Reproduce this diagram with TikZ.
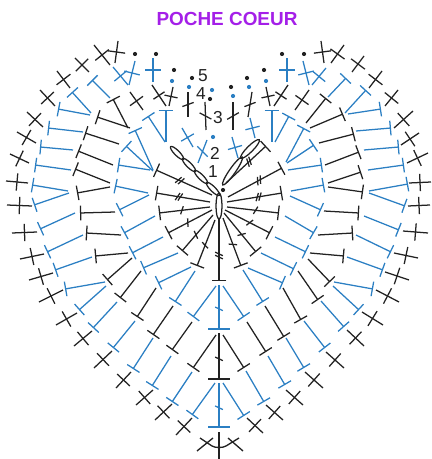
\documentclass[tikz,border=0pt]{standalone}
\usepackage{fontspec}
\setmainfont{Liberation Sans}
\usetikzlibrary{calc,arrows.meta}
\definecolor{stblue}{HTML}{2B7FC3}
\definecolor{stblack}{HTML}{222222}
\definecolor{titlepurple}{HTML}{A41FE8}
% stem from a to b, bar across its middle
\newcommand{\crossst}[5][90]{%
\draw[#2] (#4) -- (#5);
\draw[#2] ($(#4)!.5!(#5)!#3!#1:(#5)$) -- ($(#4)!.5!(#5)!#3!#1-180:(#5)$);
}
\newcommand{\slashst}[4]{%
\draw[#1] ($(#3)!#2!(#4)!3.2pt!65:(#4)$) -- ($(#3)!#2!(#4)!3.2pt!-115:(#4)$);
}
\begin{document}
\begin{tikzpicture}[x=.75pt,y=-.75pt,line width=.95pt,
every node/.style={inner sep=0pt,text=stblack,font=\fontsize{13}{13}\selectfont},
bluest/.style={stblue},
blackst/.style={stblack},
bluet/.style={stblue,-{Bar[width=11pt,line width=.95pt]}},
blackt/.style={stblack,-{Bar[width=11pt,line width=.95pt]}},
bluewide/.style={stblue,line width=1.2pt,-{Bar[width=16pt,line width=1.2pt]}},
blackwide/.style={stblack,line width=1.2pt,-{Bar[width=16pt,line width=1.2pt]}},
blackdot/.style={fill=stblack,draw=none},
bluedot/.style={fill=stblue,draw=none}]
\useasboundingbox (0,0) rectangle (431,459);
\node[text=titlepurple,font=\fontsize{14.2}{14.2}\bfseries\selectfont] (title) at (227,19) {POCHE COEUR};
\node (lblone) at (213,172) {1};
\node (lbltwo) at (215,153) {2};
\node (lblthree) at (218,118) {3};
\node (lblfour) at (201,94) {4};
\node (lblfive) at (203,76) {5};
% foundation ring
\draw[stblack] (219,206) ellipse [x radius=3,y radius=13];
\foreach \cx/\cy in {177/153,189/165,201/177,213/189}
  \draw[stblack,rotate around={-45:(\cx,\cy)}] (\cx,\cy) ellipse [x radius=9,y radius=2.5];
\draw[stblack,rotate around={55:(232.5,171)}] (232.5,171) ellipse [x radius=17,y radius=3];
\draw[stblack,rotate around={45:(250,149)}] (250,149) ellipse [x radius=13,y radius=3];
% round 1
\foreach \a/\b/\c/\d in {212/195/156/170,210/202/156/193,226/183/266/146,228/197/282/168,227/202/282/193} {
  \draw[blackt] (\a,\b) -- (\c,\d);
  \slashst{stblack}{.55}{\a,\b}{\c,\d}
  \slashst{stblack}{.6}{\a,\b}{\c,\d}
}
\foreach \a/\b/\c/\d in {210/207/159/213,212/210/168/233,213/215/182/251,215/220/197/266,227/207/279/213,225/210/270/233,224/213/256/252,223/218/241/266} {
  \draw[blackt] (\a,\b) -- (\c,\d);
  \slashst{stblack}{.55}{\a,\b}{\c,\d}
}
\draw[blackt] (219,218) -- (219,281);
\slashst{stblack}{.57}{219,218}{219,281}
\slashst{stblack}{.62}{219,218}{219,281}
% round 2
\foreach \a/\b/\c/\d in {166/142/166/110,165/142/148/116,153/170/135/130,153/171/126/146,150/170/118/165,148/193/115/186,149/195/119/210,155/216/124/233,163/237/132/253,178/253/143/268,191/267/158/283,195/271/175/302,216/286/193/317,223/286/244/317,243/270/263/302,248/268/283/283,261/253/294/269,275/237/306/252,285/216/314/233,290/196/321/210,291/191/324/185,288/170/322/165,287/163/314/145,286/162/304/128,275/142/289/116,272/142/272/110}
  \draw[bluet] (\a,\b) -- (\c,\d);
\draw[bluewide] (219,285) -- (219,330);
\slashst{stblue}{.53}{219,285}{219,330}
\crossst[66]{bluest}{5.5pt}{198,163}{207,140}
\foreach \a/\b/\c/\d in {193/147/182/128,238/158/232/137,255/138/250/118} {
  \crossst{bluest}{5.5pt}{\a,\b}{\c,\d}
}
% round 3
\foreach \a/\b/\c/\d in {128/128/113/99,130/128/97/117,119/144/85/133,113/165/78/151,110/183/75/169,110/187/77/193,115/212/80/213,121/235/86/233,128/253/95/256,132/258/107/280,141/271/120/298,156/288/137/317,173/306/153/335,192/322/172/350,216/335/193/368,223/335/244/368,247/322/266/352,265/306/284/337,283/288/301/320,298/271/318/300,308/259/330/282,310/253/344/256,318/235/353/233,324/211/359/213,328/187/363/192,328/183/361/172,325/165/359/152,319/143/354/134,310/128/343/114,306/123/326/98}
  \draw[blackt] (\a,\b) -- (\c,\d);
\draw[blackwide] (219,333) -- (219,380);
\slashst{stblack}{.55}{219,333}{219,380}
\crossst[60]{blackst}{5pt}{206,130}{205,102}
\crossst[110]{blackst}{4.5pt}{188,117}{188,92}
\crossst[120]{blackst}{5pt}{233,130}{233,102}
\crossst[120]{blackst}{4.5pt}{248,117}{252,92}
\foreach \a/\b/\c/\d in {166/106/152/85,169/106/173/87,270/106/266/87,274/106/288/85} {
  \crossst{blackst}{5pt}{\a,\b}{\c,\d}
}
\foreach \a/\b/\c/\d in {143/110/130/92,295/110/309/90} {
  \crossst{blackst}{6pt}{\a,\b}{\c,\d}
}
% round 4
\foreach \a/\b/\c/\d in {110/98/92/80,91/113/72/92,90/115/58/109,83/132/48/128,73/150/40/147,71/170/35/165,68/191/32/185,69/193/34/205,75/213/40/229,83/235/47/252,92/257/55/270,105/282/65/289,106/286/79/310,117/302/93/328,135/321/113/348,153/338/133/369,171/356/152/386,192/372/172/402,215/383/192/415,223/383/244/416,246/371/264/402,268/356/285/385,286/338/304/368,304/321/325/348,321/301/344/327,333/286/359/310,334/282/373/289,347/257/383/270,356/235/391/252,364/216/399/230,369/193/405/206,369/191/408/184,368/170/404/165,364/150/399/147,356/131/391/128,348/114/381/109,345/113/366/90,328/97/346/78}
  \draw[bluet] (\a,\b) -- (\c,\d);
\draw[bluewide] (219,383) -- (219,428);
\slashst{stblue}{.55}{219,383}{219,428}
\foreach \a/\b/\c/\d in {128/85/113/67,129/85/135/61,153/82/153/58,312/85/326/68,309/85/303/61,287/82/287/58} {
  \crossst{bluest}{6pt}{\a,\b}{\c,\d}
}
% round 5
\foreach \a/\b/\c/\d in {115/63/118/41,110/65/94/45,89/72/75/58,70/88/57/71,55/106/40/90,43/127/27/112,36/143/17/132,29/163/10/154,28/183/6/181,32/206/7/205,37/232/12/233,44/254/20/259,53/273/29/280,63/290/39/302,77/313/56/325,92/331/74/346,112/351/94/368,131/372/116/388,153/390/136/405,172/404/155/420,192/418/176/435,247/418/263/433,266/405/283/420,286/390/303/405,305/372/323/388,326/352/344/368,347/330/364/346,362/312/383/325,376/290/399/302,385/272/409/280,394/253/418/258,403/231/428/233,408/206/430/205,409/183/431/182,407/163/428/153,401/145/419/133,394/128/413/111,385/106/398/90,369/88/382/71,352/72/364/56,331/63/344/45,324/63/321/41} {
  \crossst{blackst}{6.5pt}{\a,\b}{\c,\d}
}
\draw[stblack,line width=1pt] (219,432) -- (219,459);
\draw[stblack,line width=1pt] (197,451) -- (213,438);
\draw[stblack,line width=1pt] (228,438) -- (243,451);
\draw[stblack,line width=1pt] (200,438) -- (212,446) .. controls (215,448) and (223,448) .. (226,446) -- (239,438);
% dots
\foreach \x/\y in {223/190,210/99,192/78,174/70,156/54,135/54,231/87,247/78,264/70,282/54,304/54}
  \fill[blackdot] (\x,\y) circle (2.1);
\foreach \x/\y in {213/137,212/90,189/87,172/81,233/96,249/87,266/81}
  \fill[bluedot] (\x,\y) circle (2.1);
\end{tikzpicture}
\end{document}
